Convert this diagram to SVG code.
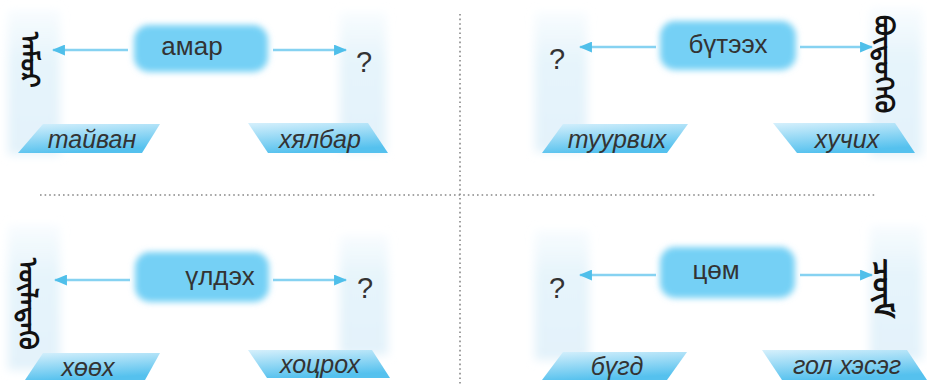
<svg xmlns="http://www.w3.org/2000/svg" width="927" height="388" viewBox="0 0 927 388">
<defs>
<style>
.box{fill:#74d0f5;filter:url(#blur)}
.col{fill:url(#colg);filter:url(#blur2)}
.lab{fill:url(#labg)}
.t{font-family:"Liberation Sans",Arial,sans-serif;font-size:26px;fill:#333;text-anchor:middle;dominant-baseline:central}
.it{font-family:"Liberation Sans",Arial,sans-serif;font-size:25px;font-style:italic;fill:#333;text-anchor:middle;dominant-baseline:central}
.q{font-family:"Liberation Sans",Arial,sans-serif;font-size:29px;fill:#333;text-anchor:middle;dominant-baseline:central}
.mn{font-family:"Noto Sans Mongolian","Mongolian Baiti",sans-serif;font-size:26px;font-weight:bold;fill:#111;writing-mode:vertical-lr}
.arr{stroke:#86d2f1;stroke-width:2.4;fill:none;marker-end:url(#ah)}
.dot{stroke:#888;stroke-width:1.6;stroke-dasharray:1.6 3;fill:none}
</style>
<filter id="blur" x="-20%" y="-40%" width="140%" height="180%"><feGaussianBlur stdDeviation="3"/></filter>
<filter id="blur2" x="-40%" y="-20%" width="180%" height="140%"><feGaussianBlur stdDeviation="5"/></filter>
<linearGradient id="colg" x1="0" y1="0" x2="0" y2="1">
<stop offset="0" stop-color="#e8f5fc" stop-opacity="0.3"/>
<stop offset="0.35" stop-color="#e6f4fb"/>
<stop offset="1" stop-color="#e3f2fa"/>
</linearGradient>
<linearGradient id="labg" x1="0" y1="0" x2="0.3" y2="1">
<stop offset="0" stop-color="#d6f0fc"/>
<stop offset="1" stop-color="#55c1ee"/>
</linearGradient>
<marker id="ah" viewBox="0 0 12 10" refX="11" refY="5" markerWidth="13" markerHeight="11" orient="auto" markerUnits="userSpaceOnUse">
<path d="M0,0 L12,5 L0,10 Z" fill="#4fbfea"/>
</marker>
</defs>
<g id="dividers">
<line class="dot" x1="460" y1="14" x2="460" y2="386"/>
<line class="dot" x1="40" y1="195" x2="876" y2="195"/>
</g>
<g id="columns">
<rect class="col" x="8" y="10" width="52" height="145"/>
<rect class="col" x="340" y="12" width="46" height="140"/>
<rect class="col" x="535" y="12" width="52" height="140"/>
<rect class="col" x="870" y="8" width="52" height="148"/>
<rect class="col" x="8" y="225" width="52" height="145"/>
<rect class="col" x="340" y="235" width="48" height="120"/>
<rect class="col" x="535" y="230" width="54" height="130"/>
<rect class="col" x="870" y="225" width="52" height="135"/>
</g>
<g id="connectors">
<line class="arr" x1="128" y1="50" x2="53" y2="50"/>
<line class="arr" x1="273" y1="50" x2="346" y2="50"/>
<line class="arr" x1="656" y1="47" x2="580" y2="47"/>
<line class="arr" x1="800" y1="47" x2="872" y2="47"/>
<line class="arr" x1="130" y1="280" x2="55" y2="280"/>
<line class="arr" x1="273" y1="280" x2="346" y2="280"/>
<line class="arr" x1="656" y1="275" x2="580" y2="275"/>
<line class="arr" x1="800" y1="275" x2="872" y2="275"/>
</g>
<g id="n-amar"><rect class="box" x="134" y="25" width="134" height="47" rx="15"/><text class="t" x="192" y="46">амар</text></g>
<g id="n-buteeh"><rect class="box" x="660" y="21" width="136" height="49" rx="15"/><text class="t" x="728" y="44">бүтээх</text></g>
<g id="n-uldeh"><rect class="box" x="135" y="252" width="134" height="50" rx="15"/><text class="t" x="220" y="276">үлдэх</text></g>
<g id="n-tsom"><rect class="box" x="660" y="247" width="135" height="51" rx="15"/><text class="t" x="716" y="270">цөм</text></g>
<g id="q1"><text class="q" x="364" y="62">?</text></g>
<g id="q2"><text class="q" x="557" y="59">?</text></g>
<g id="q3"><text class="q" x="365" y="288">?</text></g>
<g id="q4"><text class="q" x="557" y="288">?</text></g>
<g id="m1"><text class="mn" x="36" y="32">ᠠᠮᠤᠷ</text></g>
<g id="m2"><text class="mn" x="890" y="15">ᠪᠦᠲᠦᠭᠡᠬᠦ</text></g>
<g id="m3"><text class="mn" x="34" y="258">ᠦᠯᠡᠳᠡᠬᠦ</text></g>
<g id="m4"><text class="mn" x="890" y="258" style="font-size:30px">ᠴᠥᠮ</text></g>
<g id="l-taivan"><polygon class="lab" points="43,124 160,124 142,153 18,153"/><text class="it" x="92" y="139">тайван</text></g>
<g id="l-hyalbar"><polygon class="lab" points="248,123 368,123 388,153 268,153"/><text class="it" x="320" y="139">хялбар</text></g>
<g id="l-tuurvih"><polygon class="lab" points="563,124 688,124 667,153 542,153"/><text class="it" x="617" y="139">туурвих</text></g>
<g id="l-huchih"><polygon class="lab" points="773,123 895,123 915,153 797,153"/><text class="it" x="847" y="139">хучих</text></g>
<g id="l-hooh"><polygon class="lab" points="43,353 160,353 145,380 25,380"/><text class="it" x="88" y="367">хөөх</text></g>
<g id="l-hotsroh"><polygon class="lab" points="248,350 372,350 390,378 267,378"/><text class="it" x="320" y="364">хоцрох</text></g>
<g id="l-bugd"><polygon class="lab" points="563,352 687,352 667,380 542,380"/><text class="it" x="617" y="366">бүгд</text></g>
<g id="l-golhes"><polygon class="lab" points="762,350 907,350 927,380 782,380"/><text class="it" x="847" y="365">гол хэсэг</text></g>
</svg>
